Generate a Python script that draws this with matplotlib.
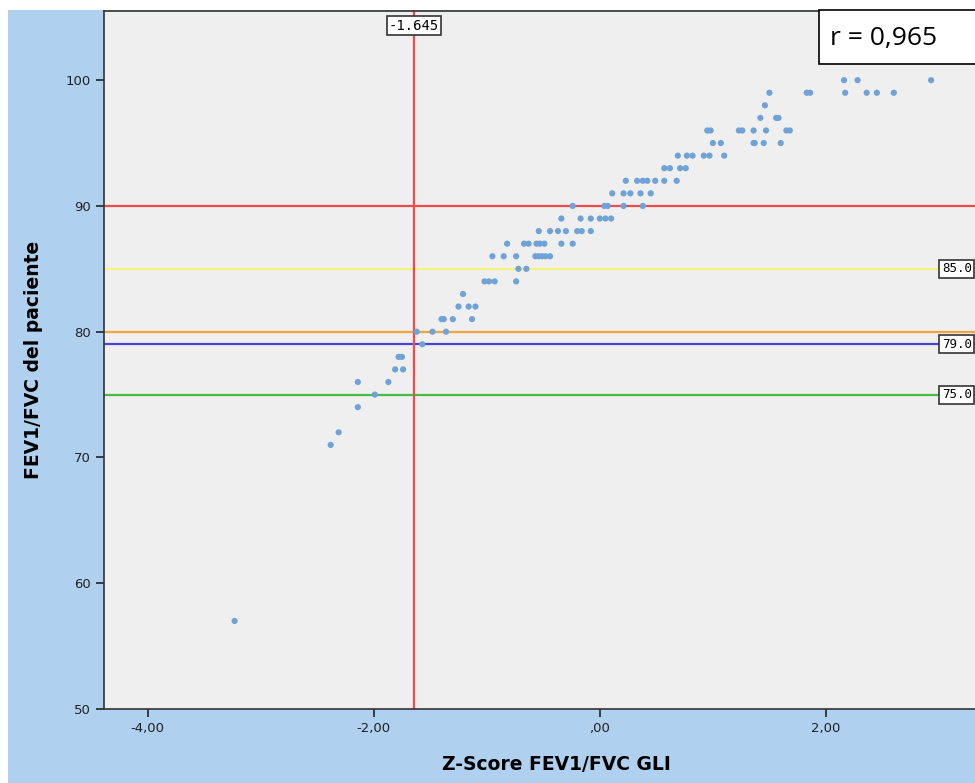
import matplotlib
matplotlib.use("Agg")
import matplotlib.pyplot as plt
from matplotlib.patches import Rectangle
from matplotlib.ticker import FuncFormatter
import numpy as np

# FEV1/FVC del paciente (y) vs Z-score GLI (x)
zscore = [
    -3.23,
    -2.38, -2.31, -2.14, -1.99, -2.14, -1.87, -1.81, -1.74, -1.78, -1.75,
    -1.57, -1.62, -1.48, -1.36,
    -1.40, -1.38, -1.30, -1.13,
    -1.25, -1.16, -1.10, -1.21,
    -1.02, -0.98, -0.93, -0.74,
    -0.72, -0.65,
    -0.95, -0.85, -0.74, -0.57, -0.54, -0.51, -0.48, -0.44,
    -0.82, -0.67, -0.63, -0.56, -0.53, -0.49, -0.34, -0.24,
    -0.54, -0.44, -0.37, -0.30, -0.20, -0.16, -0.08,
    -0.34, -0.17, -0.08, 0.00, 0.05, 0.10,
    -0.24, 0.04, 0.07, 0.21, 0.38,
    0.11, 0.21, 0.27, 0.36, 0.45,
    0.23, 0.33, 0.38, 0.42, 0.49, 0.57, 0.68,
    0.57, 0.62, 0.71, 0.76,
    0.69, 0.77, 0.82, 0.92, 0.97, 1.10,
    1.00, 1.07, 1.36, 1.37, 1.45, 1.60,
    0.95, 0.98, 1.23, 1.26, 1.36, 1.47, 1.65, 1.68,
    1.42, 1.56, 1.58,
    1.46,
    1.50, 1.83, 1.86, 2.17, 2.36, 2.45, 2.60,
    2.16, 2.28, 2.93,
]
fev_fvc = [
    57,
    71, 72, 74, 75, 76, 76, 77, 77, 78, 78,
    79, 80, 80, 80,
    81, 81, 81, 81,
    82, 82, 82, 83,
    84, 84, 84, 84,
    85, 85,
    86, 86, 86, 86, 86, 86, 86, 86,
    87, 87, 87, 87, 87, 87, 87, 87,
    88, 88, 88, 88, 88, 88, 88,
    89, 89, 89, 89, 89, 89,
    90, 90, 90, 90, 90,
    91, 91, 91, 91, 91,
    92, 92, 92, 92, 92, 92, 92,
    93, 93, 93, 93,
    94, 94, 94, 94, 94, 94,
    95, 95, 95, 95, 95, 95,
    96, 96, 96, 96, 96, 96, 96, 96,
    97, 97, 97,
    98,
    99, 99, 99, 99, 99, 99, 99,
    100, 100, 100,
]

ref_values = [90, 85, 80, 79, 75]
ref_colors = ["#ef4b4b", "#f6f27e", "#f3a43a", "#4646d6", "#45bd45"]
ref_labels = {85: "85.0", 79: "79.0", 75: "75.0"}
z_cut = -1.645
r_text = "r = 0,965"

fig = plt.figure(figsize=(9.75, 7.83), dpi=100)
fig.patches.append(Rectangle((8 / 975, 0), 1, (783 - 10) / 783, transform=fig.transFigure,
                             facecolor="#afd0ee", edgecolor="none", zorder=-10))

ax = fig.add_axes([104 / 975, 74 / 783, 904 / 975, 698 / 783])
ax.set_facecolor("#efefef")
ax.set_xlim(-4.385, 3.61)
ax.set_ylim(50, 105.5)

for v, c in zip(ref_values, ref_colors):
    ax.axhline(v, color=c, lw=1.6, zorder=2)
    if v in ref_labels:
        # box runs off the right edge like the original export
        ax.text(3.025, v, ref_labels[v], ha="left", va="center", fontsize=9,
                family="DejaVu Sans Mono", zorder=5,
                bbox=dict(boxstyle="square,pad=0.2", fc="white", ec="#333333", lw=1.2))
ax.axvline(z_cut, color="#ef4b4b", lw=1.6, zorder=2)
ax.text(z_cut, 104.9, "-1.645", ha="center", va="top", fontsize=10,
        family="DejaVu Sans Mono", zorder=5,
        bbox=dict(boxstyle="square,pad=0.15", fc="white", ec="#333333", lw=1.2))

ax.scatter(zscore, fev_fvc, s=20, color="#6fa2d6", edgecolors="none", zorder=3)

ax.set_xticks([-4, -2, 0, 2])
ax.xaxis.set_major_formatter(FuncFormatter(
    lambda v, p: ",00" if v == 0 else f"{v:.2f}".replace(".", ",")))
ax.set_yticks([50, 60, 70, 80, 90, 100])
ax.tick_params(direction="out", length=6, width=1.2, labelsize=9.5, colors="#222222")
for s in ax.spines.values():
    s.set_color("#333333")
    s.set_linewidth(1.2)

ax.set_xlabel("Z-Score FEV1/FVC GLI", fontsize=13.5, fontweight="bold", labelpad=14)
ax.set_ylabel("FEV1/FVC del paciente", fontsize=13.5, fontweight="bold", labelpad=16)

# r box in the top right corner
fig.patches.append(Rectangle((819 / 975, (783 - 64) / 783), 0.3, 54 / 783,
                             transform=fig.transFigure, facecolor="white",
                             edgecolor="black", lw=1.2, zorder=10))
fig.text(830 / 975, (783 - 38) / 783, r_text, fontsize=19, family="Open Sans",
         va="center", ha="left", zorder=11)

fig.savefig("out.png", dpi=100)
